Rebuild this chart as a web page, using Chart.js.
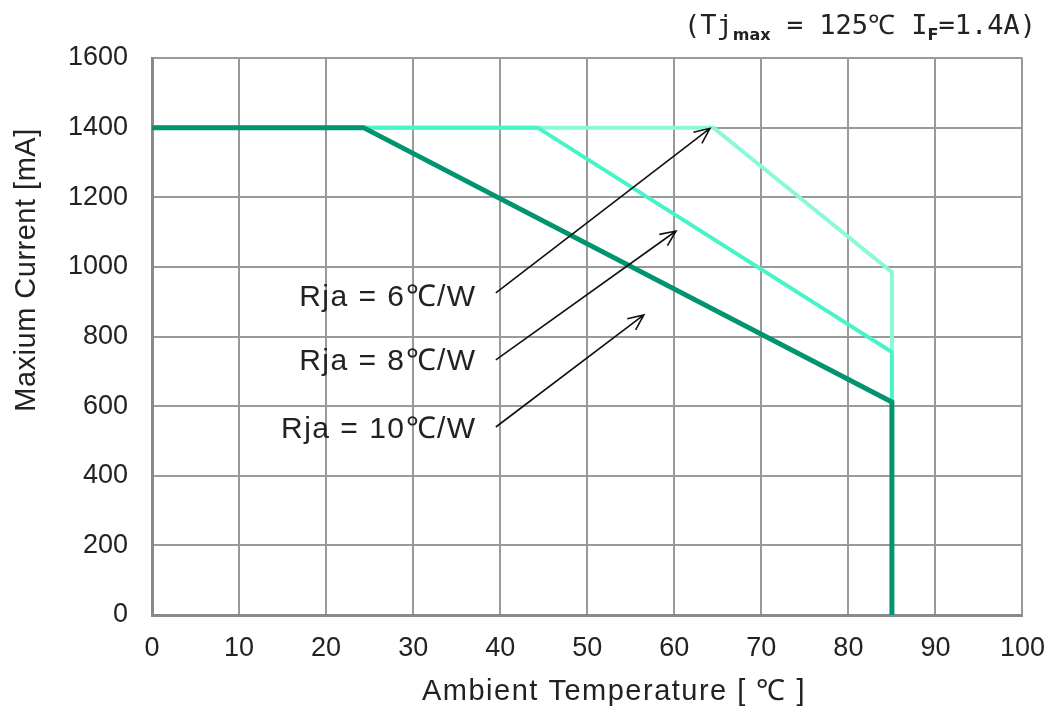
<!DOCTYPE html>
<html lang="en">

<head>
    <meta charset="UTF-8">
    <title>Maximum Current vs Ambient Temperature</title>
    <style>
        body {
            margin: 0;
            background: #ffffff;
        }
    </style>
</head>

<body>
    <canvas id="derating-chart" width="1062" height="716"></canvas>

    <script src="https://cdn.jsdelivr.net/npm/chart.js"></script>
    <script>
        // Data
        var xTicks = [0, 10, 20, 30, 40, 50, 60, 70, 80, 90, 100];
        var yTicks = [0, 200, 400, 600, 800, 1000, 1200, 1400, 1600];

        var rja6X = [0, 64.5, 85, 85];
        var rja6Y = [1400, 1400, 985, 755];
        var rja8X = [0, 44.3, 85, 85];
        var rja8Y = [1400, 1400, 755, 610];
        var rja10X = [0, 24.3, 85, 85];
        var rja10Y = [1400, 1400, 612, 0];

        var labels = ["Rja = 6\u2103/W", "Rja = 8\u2103/W", "Rja = 10\u2103/W"];
        // arrow annotations in data units: label anchor, arrow tail, arrow head
        var labelX = [37.3, 37.3, 37.3];
        var labelY = [910, 727, 532];
        var arrowFromX = [39.5, 39.5, 39.5];
        var arrowFromY = [925, 733, 540];
        var arrowToX = [64.1, 60.2, 56.5];
        var arrowToY = [1398, 1103, 862];

        function toPoints(xs, ys) {
            return xs.map(function (x, i) { return { x: x, y: ys[i] }; });
        }

        var fontFamily = "'Liberation Sans', Arial, sans-serif";

        // Arrows, labels, header and axis titles
        var annotations = {
            id: 'annotations',
            afterDatasetsDraw: function (chart) {
                var ctx = chart.ctx;
                var xs = chart.scales.x;
                var ys = chart.scales.y;
                ctx.save();

                // arrows
                ctx.strokeStyle = '#111';
                ctx.lineWidth = 1.6;
                for (var i = 0; i < arrowFromX.length; i++) {
                    var x1 = xs.getPixelForValue(arrowFromX[i]);
                    var y1 = ys.getPixelForValue(arrowFromY[i]);
                    var x2 = xs.getPixelForValue(arrowToX[i]);
                    var y2 = ys.getPixelForValue(arrowToY[i]);
                    var a = Math.atan2(y2 - y1, x2 - x1);
                    ctx.beginPath();
                    ctx.moveTo(x1, y1);
                    ctx.lineTo(x2, y2);
                    ctx.moveTo(x2 - 17 * Math.cos(a - 0.42), y2 - 17 * Math.sin(a - 0.42));
                    ctx.lineTo(x2, y2);
                    ctx.lineTo(x2 - 17 * Math.cos(a + 0.42), y2 - 17 * Math.sin(a + 0.42));
                    ctx.stroke();
                }

                // Rja labels
                ctx.fillStyle = '#222';
                ctx.font = "30px " + fontFamily;
                ctx.letterSpacing = '1.5px';
                ctx.textAlign = 'right';
                ctx.textBaseline = 'middle';
                for (var j = 0; j < labels.length; j++) {
                    ctx.fillText(labels[j], xs.getPixelForValue(labelX[j]), ys.getPixelForValue(labelY[j]));
                }
                ctx.letterSpacing = '0px';

                // header: (Tj_max = 125℃ I_F=1.4A)
                var parts = [
                    { t: "(Tj", sub: false },
                    { t: "max", sub: true },
                    { t: " = 125\u2103 I", sub: false },
                    { t: "F", sub: true },
                    { t: "=1.4A)", sub: false }
                ];
                var bigFont = "27px 'DejaVu Sans Mono', monospace";
                var smallFont = "bold 16px 'DejaVu Sans', sans-serif";
                var total = 0;
                parts.forEach(function (p) {
                    ctx.font = p.sub ? smallFont : bigFont;
                    p.w = ctx.measureText(p.t).width;
                    total += p.w;
                });
                var cx = 1036 - total;
                ctx.textAlign = 'left';
                ctx.textBaseline = 'alphabetic';
                ctx.fillStyle = '#222';
                parts.forEach(function (p) {
                    ctx.font = p.sub ? smallFont : bigFont;
                    ctx.fillText(p.t, cx, p.sub ? 40 : 34);
                    cx += p.w;
                });

                // axis titles
                ctx.textAlign = 'center';
                ctx.textBaseline = 'middle';
                ctx.font = "29px " + fontFamily;
                ctx.letterSpacing = '1.5px';
                ctx.fillText("Ambient Temperature [ \u2103 ]", 614, 692);
                ctx.letterSpacing = '0.5px';
                ctx.translate(27, 270);
                ctx.rotate(-Math.PI / 2);
                ctx.fillText("Maxium Current [mA]", 0, 0);

                ctx.restore();
            }
        };

        function plainTick(value) {
            return String(value);
        }

        var ctx = document.getElementById("derating-chart").getContext("2d");
        var chart = new Chart(ctx, {
            type: 'line',
            data: {
                // first dataset is painted on top
                datasets: [
                    {
                        label: labels[2],
                        data: toPoints(rja10X, rja10Y),
                        borderColor: '#009470',
                        borderWidth: 5,
                        pointRadius: 0,
                        tension: 0
                    },
                    {
                        label: labels[1],
                        data: toPoints(rja8X, rja8Y),
                        borderColor: '#47f4c8',
                        borderWidth: 4,
                        pointRadius: 0,
                        tension: 0
                    },
                    {
                        label: labels[0],
                        data: toPoints(rja6X, rja6Y),
                        borderColor: '#8cf8da',
                        borderWidth: 4,
                        pointRadius: 0,
                        tension: 0
                    }
                ]
            },
            options: {
                responsive: false,
                animation: false,
                devicePixelRatio: 1,
                layout: {
                    padding: { top: 58, right: 34, left: 0, bottom: 0 }
                },
                plugins: {
                    legend: { display: false },
                    tooltip: { enabled: false }
                },
                scales: {
                    x: {
                        type: 'linear',
                        min: 0,
                        max: 100,
                        afterBuildTicks: function (scale) {
                            scale.ticks = xTicks.map(function (v) { return { value: v }; });
                        },
                        afterFit: function (scale) { scale.height = 101; },
                        grid: { color: '#9a9a9a', lineWidth: 2, drawTicks: false },
                        border: { color: '#8a8a8a', width: 3 },
                        ticks: {
                            padding: 17,
                            color: '#222',
                            callback: plainTick,
                            font: { family: fontFamily, size: 27 }
                        }
                    },
                    y: {
                        min: 0,
                        max: 1600,
                        afterBuildTicks: function (scale) {
                            scale.ticks = yTicks.map(function (v) { return { value: v }; });
                        },
                        afterFit: function (scale) { scale.width = 152; },
                        grid: { color: '#9a9a9a', lineWidth: 2, drawTicks: false },
                        border: { color: '#8a8a8a', width: 3 },
                        ticks: {
                            padding: 24,
                            color: '#222',
                            callback: plainTick,
                            font: { family: fontFamily, size: 27 }
                        }
                    }
                }
            },
            plugins: [annotations]
        });
    </script>
</body>

</html>
